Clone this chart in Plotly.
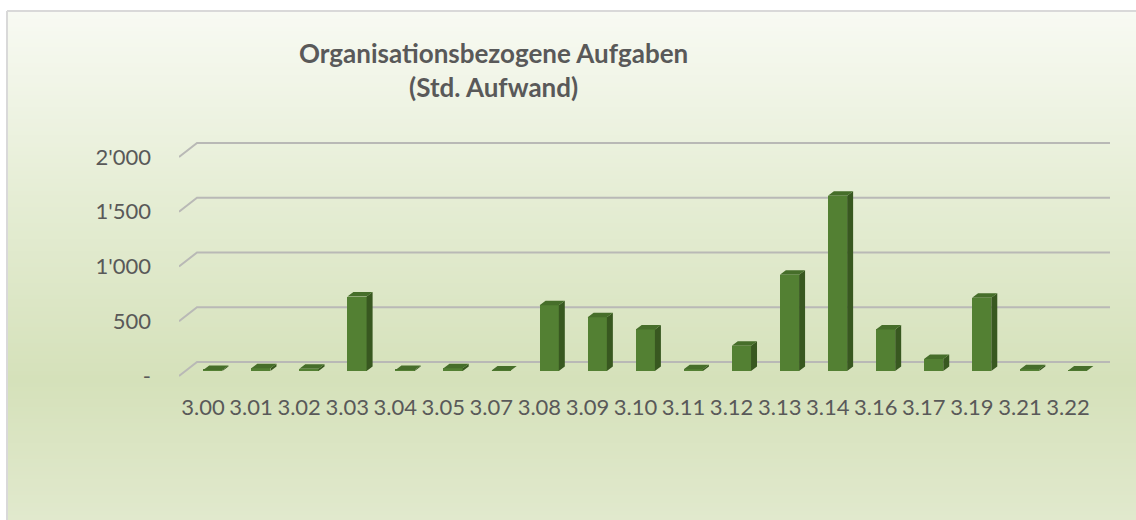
import plotly.graph_objects as go

categories = ["3.00", "3.01", "3.02", "3.03", "3.04", "3.05", "3.07", "3.08", "3.09", "3.10",
              "3.11", "3.12", "3.13", "3.14", "3.16", "3.17", "3.19", "3.21", "3.22"]
hours = [10, 25, 20, 680, 10, 25, 5, 600, 490, 380, 15, 230, 880, 1600, 380, 110, 670, 15, 5]
y_ticks = [0, 500, 1000, 1500, 2000]
y_tick_labels = ["-", "500", "1'000", "1'500", "2'000"]
title_lines = ["Organisationsbezogene Aufgaben", "(Std. Aufwand)"]

W, H = 1136, 520
ML, MR, MT, MB = 179, 26, 140, 140
PW, PH = W - ML - MR, H - MT - MB

# pseudo-3D geometry (axis units)
KY = 0.1095            # px per value unit
Y0PX = 376             # pixel row of front floor
XPX = 48.05            # px per category
depth_dx = 18 / XPX    # back wall shift in x
depth_dy = 14 / KY     # back wall shift in y
bar_w = 0.40
bar_dx = 9.8 / XPX
bar_base = 5 / KY
side_dx = 6 / XPX
side_dy = 4.5 / KY

ymax = (Y0PX - MT) / KY
ymin = -(H - MB - Y0PX) / KY
xmin, xmax = -0.5, len(categories) - 0.5 + depth_dx

fig = go.Figure()

# background gradient strips (paper coords)
stops = [(11, (248, 250, 243)), (200, (229, 237, 212)), (380, (213, 225, 186)), (520, (225, 233, 205))]
def col_at(py):
    for (a, ca), (b, cb) in zip(stops, stops[1:]):
        if a <= py <= b:
            t = (py - a) / (b - a)
            return tuple(round(ca[i] + (cb[i] - ca[i]) * t) for i in range(3))
    return stops[-1][1]

def px2paper_x(px):
    return (px - ML) / PW

def px2paper_y(py):
    return (H - MB - py) / PH

shapes = []
step = 4
py = 11
while py < H:
    c = col_at(py + step / 2)
    shapes.append(dict(type="rect", xref="paper", yref="paper",
                       x0=px2paper_x(7), x1=px2paper_x(W + 5),
                       y0=px2paper_y(py), y1=px2paper_y(min(py + step + 1, H + 2)),
                       fillcolor="rgb(%d,%d,%d)" % c, line=dict(width=0), layer="below"))
    py += step
# border
shapes.append(dict(type="line", xref="paper", yref="paper",
                   x0=px2paper_x(7), x1=px2paper_x(W + 5), y0=px2paper_y(11), y1=px2paper_y(11),
                   line=dict(color="#d9d9d9", width=2), layer="below"))
shapes.append(dict(type="line", xref="paper", yref="paper",
                   x0=px2paper_x(7), x1=px2paper_x(7), y0=px2paper_y(11), y1=px2paper_y(H + 5),
                   line=dict(color="#d9d9d9", width=2), layer="below"))

# gridlines with side-wall diagonal (below the bars)
for t in y_ticks:
    path = "M %f,%f L %f,%f L %f,%f" % (xmin, t, xmin + depth_dx, t + depth_dy, xmax, t + depth_dy)
    shapes.append(dict(type="path", xref="x", yref="y", path=path,
                       line=dict(color="#b9b9b6", width=2), layer="below"))

xs = [i + bar_dx for i in range(len(categories))]

# side and top faces
sx, sy, tx, ty = [], [], [], []
for x, v in zip(xs, hours):
    xr = x + bar_w / 2
    xl = x - bar_w / 2
    b = bar_base
    sx += [xr, xr + side_dx, xr + side_dx, xr, xr, None]
    sy += [b, b + side_dy, b + v + side_dy, b + v, b, None]
    tx += [xl, xr, xr + side_dx, xl + side_dx, xl, None]
    ty += [b + v, b + v, b + v + side_dy, b + v + side_dy, b + v, None]
fig.add_trace(go.Scatter(x=sx, y=sy, mode="lines", fill="toself", fillcolor="#385820",
                         line=dict(width=0, color="#385820"), hoverinfo="skip", showlegend=False))
fig.add_trace(go.Scatter(x=tx, y=ty, mode="lines", fill="toself", fillcolor="#466e2a",
                         line=dict(width=0, color="#466e2a"), hoverinfo="skip", showlegend=False))
# front faces
fig.add_trace(go.Bar(x=xs, y=hours, base=bar_base, width=bar_w, marker=dict(color="#538033", line=dict(width=0)),
                     showlegend=False, hovertemplate="%{text}: %{y}<extra></extra>", text=categories,
                     textposition="none"))

fig.add_annotation(text="<br>".join("<b>%s</b>" % s for s in title_lines), xref="paper", yref="paper",
                   x=px2paper_x(493), y=px2paper_y(70), xanchor="center", yanchor="middle",
                   align="center", showarrow=False,
                   font=dict(family="Lato", size=26, color="#595959"))

fig.update_layout(
    width=W, height=H, autosize=False,
    margin=dict(l=ML, r=MR, t=MT, b=MB, pad=0),
    paper_bgcolor="white", plot_bgcolor="rgba(0,0,0,0)",
    shapes=shapes, showlegend=False, bargap=0,
    font=dict(family="Lato", size=22, color="#595959"),
    xaxis=dict(range=[xmin, xmax], tickmode="array", tickvals=list(range(len(categories))),
               ticktext=categories, showgrid=False, zeroline=False, showline=False,
               ticks="", ticklabelstandoff=12, tickfont=dict(size=22, color="#595959")),
    yaxis=dict(range=[ymin, ymax], tickmode="array", tickvals=y_ticks, ticktext=y_tick_labels,
               showgrid=False, zeroline=False, showline=False, ticks="", ticklabelstandoff=27,
               tickfont=dict(size=22, color="#595959")),
)

fig.write_html("out.html", config={"displayModeBar": False},
               post_script="document.body.style.margin='0';document.body.style.overflow='hidden';")
